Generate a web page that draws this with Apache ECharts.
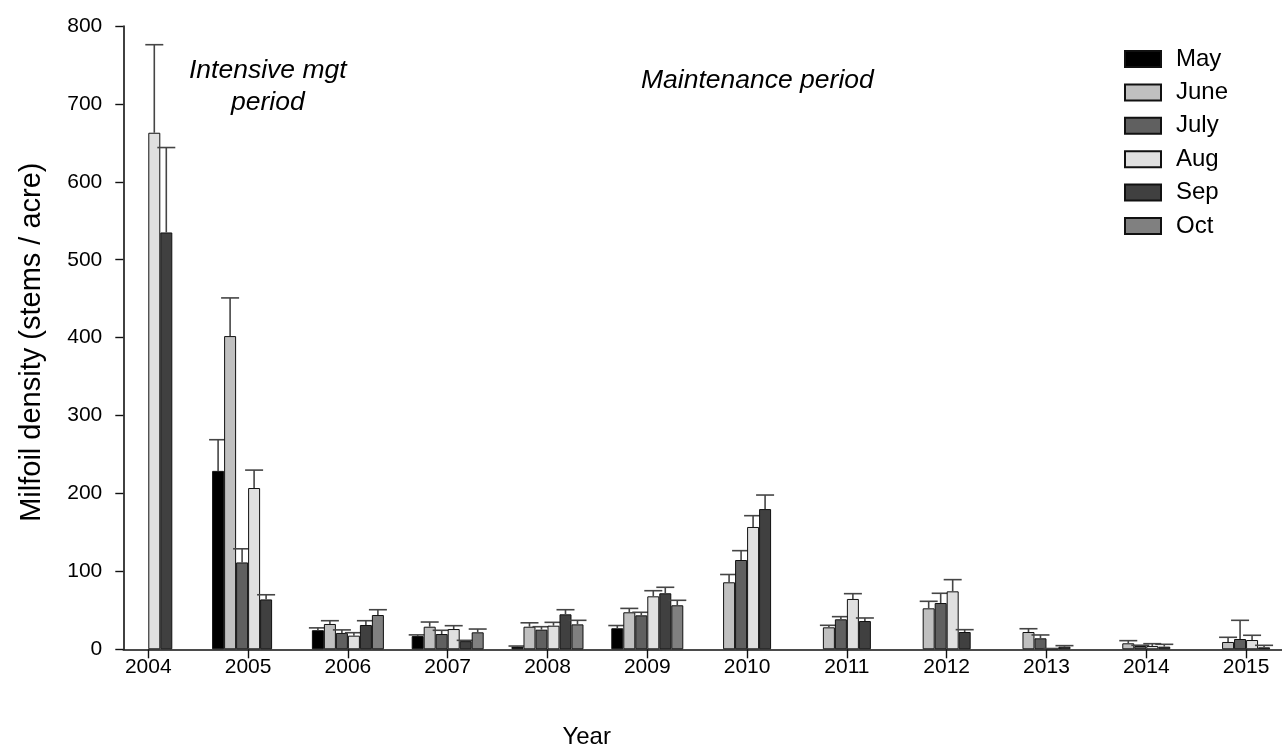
<!DOCTYPE html>
<html>
<head>
<meta charset="utf-8">
<script src="https://cdn.jsdelivr.net/npm/echarts@6/dist/echarts.min.js"></script>
<style>
  html, body { margin: 0; padding: 0; background: #fff; }
  #chart { width: 1282px; height: 751px; }
</style>
</head>
<body>
<div id="chart"></div>
<script>
// Survey years
const years = [2004, 2005, 2006, 2007, 2008, 2009, 2010, 2011, 2012, 2013, 2014, 2015];

// Mean milfoil density (stems / acre) per survey month; null = no survey
const may  = [null, 229, 24.5, 17, 3.5, 27, null, null, null, null, null, null];
const june = [null, 402, 32.5, 29, 29, 47.5, 86, 28.2, 52.6, 22.2, 7.7, 9.4];
const july = [null, 111.5, 21, 19.6, 25.2, 43.6, 114.6, 38.5, 59.4, 14.1, 4.2, 13.2];
const aug  = [663, 207, 17.5, 26, 30.3, 68, 157, 64.6, 74.4, 1, 4.3, 11.9];
const sep  = [535, 64, 31.2, 10.5, 44.9, 71.9, 180, 36.3, 22.2, 3.4, 3.4, 2.5];
const oct  = [null, null, 44, 21.8, 32, 56.5, null, null, null, null, null, null];

// Standard errors (upper bars only)
const mayErr  = [null, 40, 3, 1.5, 0.7, 3.5, null, null, null, null, null, null];
const juneErr = [null, 49, 4.2, 6, 5, 5, 10, 2.6, 9, 4.2, 3.4, 6];
const julyErr = [null, 17.5, 3.9, 4.8, 3.8, 3.9, 12, 3.4, 12.5, 4.3, 1, 24];
const augErr  = [113, 23, 3.8, 4.3, 4.3, 7.2, 14.5, 6.8, 15, 0, 2.9, 6.1];
const sepErr  = [109, 6, 5.5, 1, 5.9, 7.7, 18, 3.9, 3, 1.3, 3, 2.6];
const octErr  = [null, null, 6.8, 4.2, 5.2, 6.4, null, null, null, null, null, null];

const months = ['May', 'June', 'July', 'Aug', 'Sep', 'Oct'];
const monthValues = [may, june, july, aug, sep, oct];
const monthErrors = [mayErr, juneErr, julyErr, augErr, sepErr, octErr];
const monthColors = ['#000000', '#c0c0c0', '#606060', '#e0e0e0', '#404040', '#808080'];

// y-axis ticks
const yTicks = [0, 100, 200, 300, 400, 500, 600, 700, 800];

// Period divider and annotation text
const dividerYear = 2006.59;
const periodLabels = ['Intensive mgt\nperiod', 'Maintenance period'];

const FONT = '"Liberation Sans", Arial, sans-serif';
const BAR_W = 12;
const CAP_W = 18;

const chart = echarts.init(document.getElementById('chart'), null, { renderer: 'canvas' });

const series = [];
months.forEach(function (m, k) {
  series.push({
    name: m,
    type: 'bar',
    barWidth: BAR_W,
    barGap: '0%',
    z: 2 + 2 * k,
    itemStyle: { color: monthColors[k], borderColor: '#111', borderWidth: 1 },
    emphasis: { disabled: true },
    data: years.map(function (y, i) {
      return monthValues[k][i] == null ? [y, '-'] : [y, monthValues[k][i]];
    })
  });
  series.push({
    name: m + ' SE',
    type: 'custom',
    z: 3 + 2 * k,
    silent: true,
    renderItem: function (params, api) {
      const year = api.value(0);
      const mean = api.value(1);
      const top = api.value(2);
      const base = api.coord([year, mean]);
      const tip = api.coord([year, top]);
      const x = base[0] + (k - 2.5) * BAR_W;
      const style = { stroke: '#454545', lineWidth: 1.6 };
      return {
        type: 'group',
        children: [
          { type: 'line', shape: { x1: x, y1: base[1], x2: x, y2: tip[1] }, style: style },
          { type: 'line', shape: { x1: x - CAP_W / 2, y1: tip[1], x2: x + CAP_W / 2, y2: tip[1] }, style: style }
        ]
      };
    },
    data: years.map(function (y, i) {
      return monthValues[k][i] == null ? null : [y, monthValues[k][i], monthValues[k][i] + monthErrors[k][i]];
    }).filter(function (d) { return d; })
  });
});

// dashed divider between management periods
series[0].markLine = {
  silent: true,
  symbol: 'none',
  label: { show: false },
  lineStyle: { color: '#111', width: 1.2, type: [28, 10.5] },
  data: [[{ coord: [dividerYear, 9.5] }, { coord: [dividerYear, 805] }]]
};

chart.setOption({
  animation: false,
  backgroundColor: '#ffffff',
  textStyle: { fontFamily: FONT, color: '#000' },
  grid: { left: 123.3, right: 0, top: 26, bottom: 101.7, containLabel: false, outerBoundsMode: 'none' },
  legend: {
    data: months,
    orient: 'vertical',
    left: 1119,
    top: 42,
    icon: 'rect',
    itemWidth: 36,
    itemHeight: 16,
    itemGap: 9.4,
    selectedMode: false,
    textStyle: { fontFamily: FONT, fontSize: 24, color: '#000', padding: [0, 0, 0, 10] }
  },
  xAxis: {
    type: 'value',
    min: 2003.7495,
    max: 2015.36,
    name: 'Year',
    nameLocation: 'middle',
    nameGap: 76,
    nameTextStyle: { fontFamily: FONT, fontSize: 24, color: '#000', padding: [0, 232, 0, 0] },
    axisLine: { show: true, onZero: false, lineStyle: { color: '#111', width: 1.6 } },
    axisTick: { show: true, inside: false, length: 9, customValues: years, lineStyle: { color: '#111', width: 1.4 } },
    axisLabel: {
      show: true, customValues: years, margin: 7, fontSize: 21, color: '#000', fontFamily: FONT,
      formatter: function (v) { return String(v); }
    },
    splitLine: { show: false }
  },
  yAxis: {
    type: 'value',
    min: 0,
    max: 800,
    interval: 100,
    name: 'Milfoil density (stems / acre)',
    nameLocation: 'middle',
    nameGap: 77,
    nameTextStyle: { fontFamily: FONT, fontSize: 29, color: '#000', padding: [0, 9, 0, 0] },
    axisLine: { show: true, lineStyle: { color: '#111', width: 1.6 } },
    axisTick: { show: true, inside: false, length: 8, lineStyle: { color: '#111', width: 1.4 } },
    axisLabel: {
      margin: 21, fontSize: 21, color: '#000', fontFamily: FONT,
      customValues: yTicks,
      formatter: function (v) { return String(v); }
    },
    splitLine: { show: false }
  },
  graphic: [
    {
      type: 'text', left: 189, top: 55, silent: true,
      style: { text: periodLabels[0], font: 'italic 26.5px ' + FONT, fill: '#000', textAlign: 'center', lineHeight: 32 }
    },
    {
      type: 'text', left: 641, top: 67, silent: true,
      style: { text: periodLabels[1], font: 'italic 26.5px ' + FONT, fill: '#000' }
    }
  ],
  series: series
});
</script>
</body>
</html>
